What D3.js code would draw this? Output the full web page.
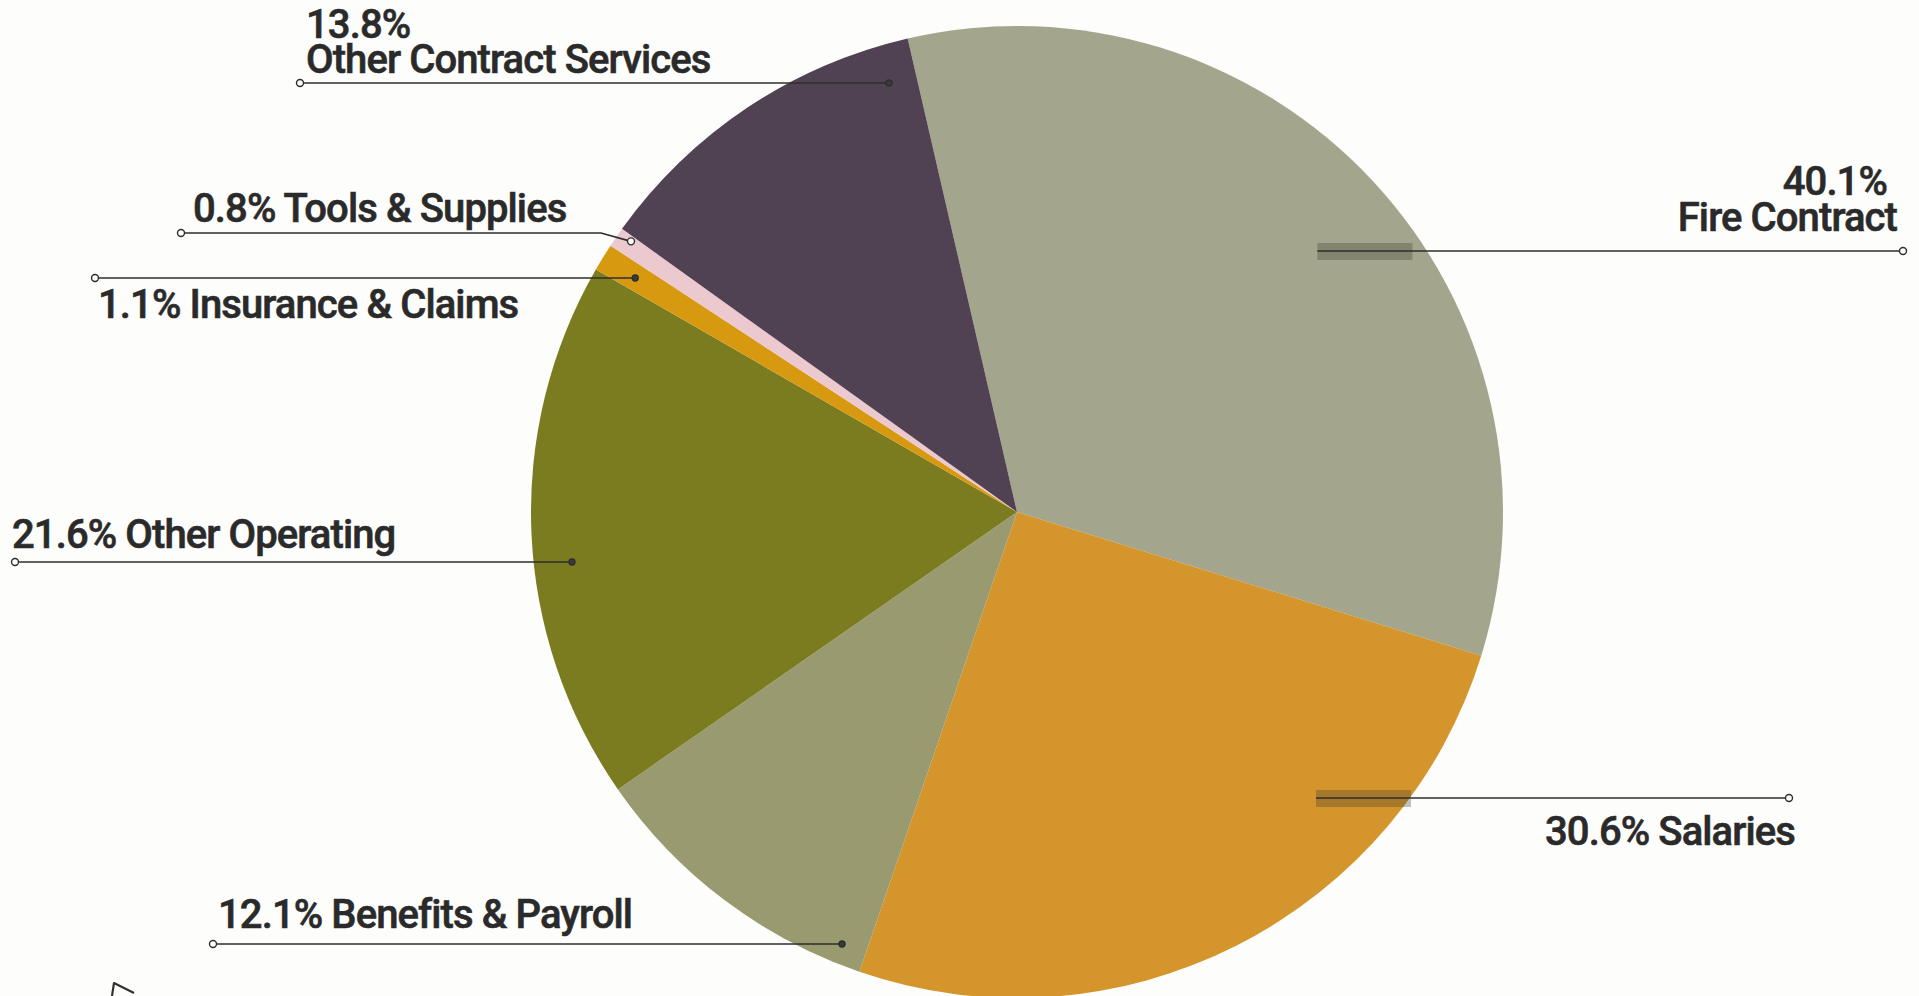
<!DOCTYPE html>
<html>
<head>
<meta charset="utf-8">
<script src="https://cdn.jsdelivr.net/npm/d3@7/dist/d3.min.js"></script>
<style>
  html, body { margin: 0; padding: 0; background: #fdfdfc; }
  svg { display: block; }
  .lbl { font-family: "Roboto", "Noto Sans", sans-serif; font-weight: 500; fill: #2a2a2a; stroke: #2a2a2a; stroke-width: 0.6px; font-size: 40px; letter-spacing: -0.9px; }
</style>
</head>
<body>
<svg id="chart" width="1919" height="996"></svg>
<script>
// Expense shares, clockwise from the top of the pie
const categories = ["Fire Contract", "Salaries", "Benefits & Payroll", "Other Operating", "Insurance & Claims", "Tools & Supplies", "Other Contract Services"];
const shares = [40.1, 30.6, 12.1, 21.6, 1.1, 0.8, 13.8];
const sliceColors = ["#a3a58d", "#d4952d", "#999a6f", "#7b7b1f", "#d6990f", "#ecc8cf", "#514253"];

// Label placement: which side, leader height, outer dot, text rows
const labelLayout = [
  { side: "R", lineY: 251, dotX: 1903, depth: 0.82, band: true,
    rows: [{ text: "pct", x: 1887, y: 195, anchor: "end" }, { text: "name", x: 1897, y: 231, anchor: "end" }] },
  { side: "R", lineY: 798, dotX: 1789, depth: 0.85, band: true,
    rows: [{ text: "both", x: 1795, y: 845, anchor: "end" }] },
  { side: "L", lineY: 944, dotX: 213, depth: 0.93,
    rows: [{ text: "both", x: 218, y: 928, anchor: "start" }] },
  { side: "L", lineY: 562, dotX: 15, depth: 0.92,
    rows: [{ text: "both", x: 12, y: 548, anchor: "start" }] },
  { side: "L", lineY: 278, dotX: 95, depth: 0.92,
    rows: [{ text: "both", x: 98, y: 318, anchor: "start" }] },
  { side: "L", lineY: 233, dotX: 181, depth: 0.97, openEnd: true,
    rows: [{ text: "both", x: 193, y: 222, anchor: "start" }] },
  { side: "L", lineY: 83, dotX: 300, depth: 0.92,
    rows: [{ text: "pct", x: 306, y: 38, anchor: "start" }, { text: "name", x: 306, y: 73, anchor: "start" }] }
];

const svg = d3.select("#chart");
const cx = 1017, cy = 512, R = 486;
const start = -13 * Math.PI / 180;

const pie = d3.pie().sort(null).value(d => d.value)
  .startAngle(start).endAngle(start + 2 * Math.PI);
const arc = d3.arc().innerRadius(0).outerRadius(R);
const color = d3.scaleOrdinal().domain(categories).range(sliceColors);
const pct = v => d3.format(".1f")(v) + "%";

const rows = categories.map((c, i) => ({ name: c, value: shares[i], layout: labelLayout[i] }));
const arcs = pie(rows);

const g = svg.append("g").attr("transform", `translate(${cx},${cy})`);
g.selectAll("path.slice").data(arcs).join("path")
  .attr("class", "slice")
  .attr("d", arc)
  .attr("fill", d => color(d.data.name));

// Find a point inside a slice whose height is as close as possible to the leader line
function leaderTarget(d, lineY, depth) {
  const a0 = d.startAngle, a1 = d.endAngle;
  const m = Math.min((a1 - a0) * 0.25, 0.05);
  let best = null;
  for (let i = 0; i <= 240; i++) {
    const th = a0 + m + (a1 - a0 - 2 * m) * i / 240;
    for (let j = 0; j <= 50; j++) {
      const r = R * (0.7 + 0.27 * j / 50);
      const y = cy - r * Math.cos(th);
      const cost = Math.abs(y - lineY) + 0.15 * Math.abs(r - depth * R);
      if (!best || cost < best.cost) best = { cost, x: cx + r * Math.sin(th), y };
    }
  }
  return best;
}

const lines = svg.append("g");
const labels = svg.append("g");

arcs.forEach(d => {
  const L = d.data.layout;
  const p = leaderTarget(d, L.lineY, L.depth);
  const pts = [[L.dotX, L.lineY]];
  if (Math.abs(p.y - L.lineY) < 1.5) {
    pts.push([p.x, L.lineY]);
  } else {
    pts.push([p.x + (L.side === "L" ? -30 : 30), L.lineY], [p.x, p.y]);
  }
  const end = pts[pts.length - 1];

  if (L.band) {
    lines.append("rect")
      .attr("x", end[0]).attr("y", end[1] - 8)
      .attr("width", 95).attr("height", 17)
      .attr("fill", "#3b3528").attr("opacity", 0.3);
  }
  lines.append("path")
    .attr("d", d3.line()(pts))
    .attr("fill", "none").attr("stroke", "#2e2e2e").attr("stroke-width", 1.6);
  lines.append("circle")
    .attr("cx", L.dotX).attr("cy", L.lineY).attr("r", 3.5)
    .attr("fill", "#fff").attr("stroke", "#2e2e2e").attr("stroke-width", 1.4);
  if (L.side === "L") {
    lines.append("circle")
      .attr("cx", end[0]).attr("cy", end[1]).attr("r", L.openEnd ? 3.5 : 3)
      .attr("fill", L.openEnd ? "#fff" : "#3a3a3a")
      .attr("stroke", "#2e2e2e").attr("stroke-width", 1.4);
  }

  // one text element per label; stacked rows become tspans
  const text = labels.append("text").attr("class", "lbl");
  L.rows.forEach(row => {
    const txt = row.text === "pct" ? pct(d.data.value)
      : row.text === "name" ? d.data.name
      : pct(d.data.value) + " " + d.data.name;
    text.append("tspan")
      .attr("x", row.x).attr("y", row.y)
      .attr("text-anchor", row.anchor)
      .text(txt);
  });
});

// small pointer glyph in the lower-left corner
svg.append("path")
  .attr("d", "M112,996 L114,983 L134,993")
  .attr("fill", "none").attr("stroke", "#333").attr("stroke-width", 2.2)
  .attr("stroke-linejoin", "round");
</script>
</body>
</html>
